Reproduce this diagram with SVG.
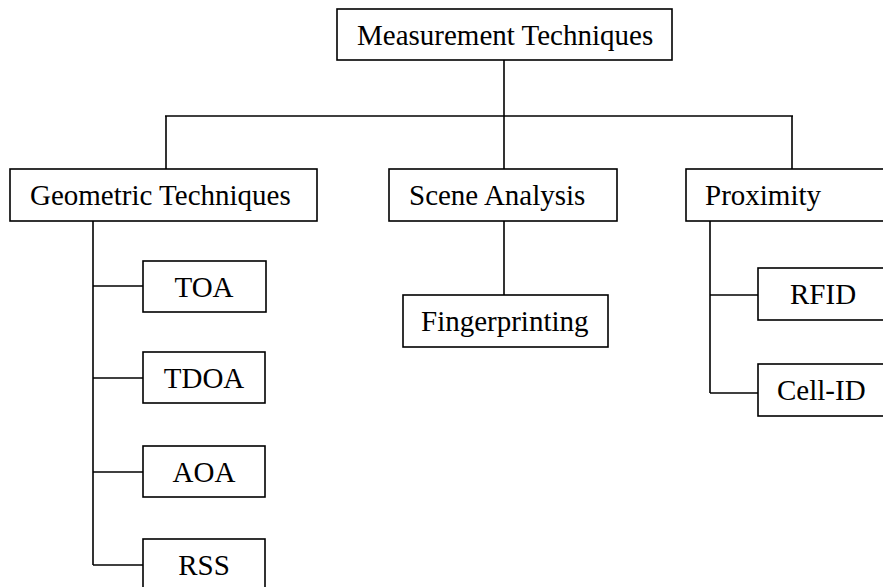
<svg xmlns="http://www.w3.org/2000/svg" width="883" height="587" viewBox="0 0 883 587">
<style>
rect{fill:#fff;stroke:#000;stroke-width:1.6}
.c line{stroke:#000;stroke-width:1.6}
text{font-family:"Liberation Serif","Times New Roman",serif;font-size:29px;fill:#000}
.m{text-anchor:middle}
</style>
<rect x="-5" y="-5" width="900" height="600" style="stroke:none"/>
<g class="c" id="connectors">
<line x1="504" y1="60" x2="504" y2="116"/>
<line x1="165" y1="116" x2="793" y2="116"/>
<line x1="166" y1="116" x2="166" y2="169"/>
<line x1="504" y1="116" x2="504" y2="169"/>
<line x1="792" y1="116" x2="792" y2="169"/>
<line x1="93" y1="221" x2="93" y2="565"/>
<line x1="93" y1="286" x2="143" y2="286"/>
<line x1="93" y1="378" x2="143" y2="378"/>
<line x1="93" y1="472" x2="143" y2="472"/>
<line x1="93" y1="565" x2="143" y2="565"/>
<line x1="504" y1="221" x2="504" y2="295"/>
<line x1="710" y1="221" x2="710" y2="393"/>
<line x1="710" y1="295" x2="758" y2="295"/>
<line x1="710" y1="393" x2="758" y2="393"/>
</g>
<g id="measurement"><rect x="337" y="9" width="335" height="51"/><text x="357" y="45">Measurement Techniques</text></g>
<g id="geometric"><rect x="10" y="169" width="307" height="52"/><text x="30" y="205">Geometric Techniques</text></g>
<g id="scene"><rect x="389" y="169" width="228" height="52"/><text x="409" y="205">Scene Analysis</text></g>
<g id="proximity"><rect x="686" y="169" width="220" height="52"/><text x="705" y="205">Proximity</text></g>
<g id="toa"><rect x="143" y="261" width="123" height="51"/><text class="m" x="204" y="297">TOA</text></g>
<g id="tdoa"><rect x="143" y="352" width="122" height="51"/><text class="m" x="204" y="388">TDOA</text></g>
<g id="aoa"><rect x="143" y="446" width="122" height="51"/><text class="m" x="204" y="482">AOA</text></g>
<g id="rss"><rect x="143" y="539" width="122" height="51"/><text class="m" x="204" y="575">RSS</text></g>
<g id="fingerprinting"><rect x="403" y="295" width="205" height="52"/><text x="421" y="331">Fingerprinting</text></g>
<g id="rfid"><rect x="758" y="268" width="150" height="52"/><text x="790" y="304">RFID</text></g>
<g id="cellid"><rect x="758" y="364" width="150" height="52"/><text x="777" y="400">Cell-ID</text></g>
</svg>
